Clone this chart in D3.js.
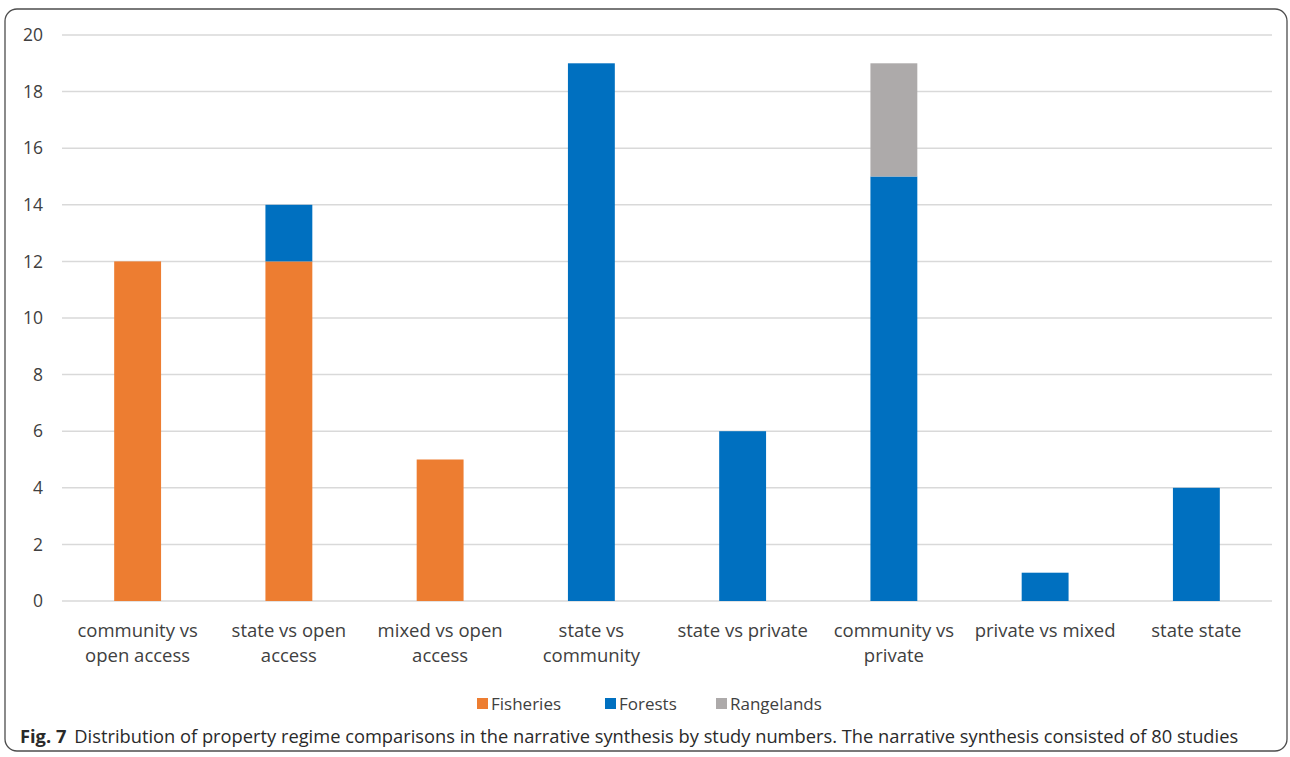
<!DOCTYPE html>
<html><head><meta charset="utf-8">
<script src="https://cdn.jsdelivr.net/npm/d3@7"></script>
<style>
html,body{margin:0;padding:0;background:#fff;}
svg{display:block;}
</style></head>
<body>
<svg id="chart" width="1290" height="757"></svg>
<script>
const categories = [
  ["community vs", "open access"],
  ["state vs open", "access"],
  ["mixed vs open", "access"],
  ["state vs", "community"],
  ["state vs private"],
  ["community vs", "private"],
  ["private vs mixed"],
  ["state state"]
];
const seriesNames = ["Fisheries", "Forests", "Rangelands"];
const fisheries = [12, 12, 5, 0, 0, 0, 0, 0];
const forests = [0, 2, 0, 19, 6, 15, 1, 4];
const rangelands = [0, 0, 0, 0, 0, 4, 0, 0];
const colors = ["#ED7D31", "#0070C0", "#ADAAAA"];
const yTicks = [0, 2, 4, 6, 8, 10, 12, 14, 16, 18, 20];
const caption = "Distribution of property regime comparisons in the narrative synthesis by study numbers. The narrative synthesis consisted of 80 studies";

const svg = d3.select("#chart");
const plotLeft = 62, plotRight = 1272, plotTop = 35, plotBottom = 601;
const chartFont = "'Open Sans', 'Noto Sans', sans-serif";

// frame
svg.append("rect").attr("x", 5).attr("y", 9).attr("width", 1282).attr("height", 742)
  .attr("rx", 12).attr("ry", 12).attr("fill", "#fff").attr("stroke", "#4d4d4d").attr("stroke-width", 1.3);

const x = d3.scaleBand().domain(d3.range(categories.length)).range([plotLeft, plotRight]).paddingInner(0.69).paddingOuter(0.345);
const y = d3.scaleLinear().domain([0, 20]).range([plotBottom, plotTop]);

// grid
svg.append("g").selectAll("line").data(yTicks).join("line")
  .attr("x1", plotLeft).attr("x2", plotRight)
  .attr("y1", d => y(d)).attr("y2", d => y(d))
  .attr("stroke", "#d9d9d9").attr("stroke-width", 1.5);

// y labels
svg.append("g").selectAll("text").data(yTicks).join("text")
  .attr("x", 43).attr("y", d => y(d)).attr("dy", "0.35em")
  .attr("text-anchor", "end")
  .attr("font-family", chartFont).attr("font-size", 17.5)
  .attr("fill", "#404040").text(d => d);

// stacked data
const table = categories.map((c, i) => ({i, Fisheries: fisheries[i], Forests: forests[i], Rangelands: rangelands[i]}));
const stack = d3.stack().keys(seriesNames)(table);

svg.append("g").selectAll("g").data(stack).join("g")
  .attr("fill", (d, k) => colors[k])
  .selectAll("rect").data(d => d.filter(p => p[1] - p[0] > 0)).join("rect")
  .attr("x", d => x(d.data.i)).attr("width", x.bandwidth())
  .attr("y", d => y(d[1])).attr("height", d => y(d[0]) - y(d[1]));

// x labels
const xl = svg.append("g").selectAll("text").data(categories).join("text")
  .attr("text-anchor", "middle")
  .attr("font-family", chartFont).attr("font-size", 18.5)
  .attr("fill", "#404040");
xl.each(function(lines, i) {
  const t = d3.select(this);
  lines.forEach((ln, j) => {
    t.append("tspan").attr("x", x(i) + x.bandwidth() / 2).attr("y", 637 + j * 25).text(ln);
  });
});

// legend
const legendX = [477, 605, 716];
const lg = svg.append("g").selectAll("g").data(seriesNames).join("g")
  .attr("transform", (d, k) => `translate(${legendX[k]},0)`);
lg.append("rect").attr("x", 0).attr("y", 698).attr("width", 11).attr("height", 11).attr("fill", (d, k) => colors[k]);
lg.append("text").attr("x", 14).attr("y", 710)
  .attr("font-family", chartFont).attr("font-size", 17)
  .attr("fill", "#404040").text(d => d);

// caption
const cap = svg.append("text").attr("x", 20).attr("y", 743)
  .attr("font-family", chartFont).attr("font-size", 18.3).attr("fill", "#2a2a2a");
cap.append("tspan").attr("font-weight", "bold").text("Fig. 7");
cap.append("tspan").attr("dx", 8).text(caption);
</script>
</body></html>
